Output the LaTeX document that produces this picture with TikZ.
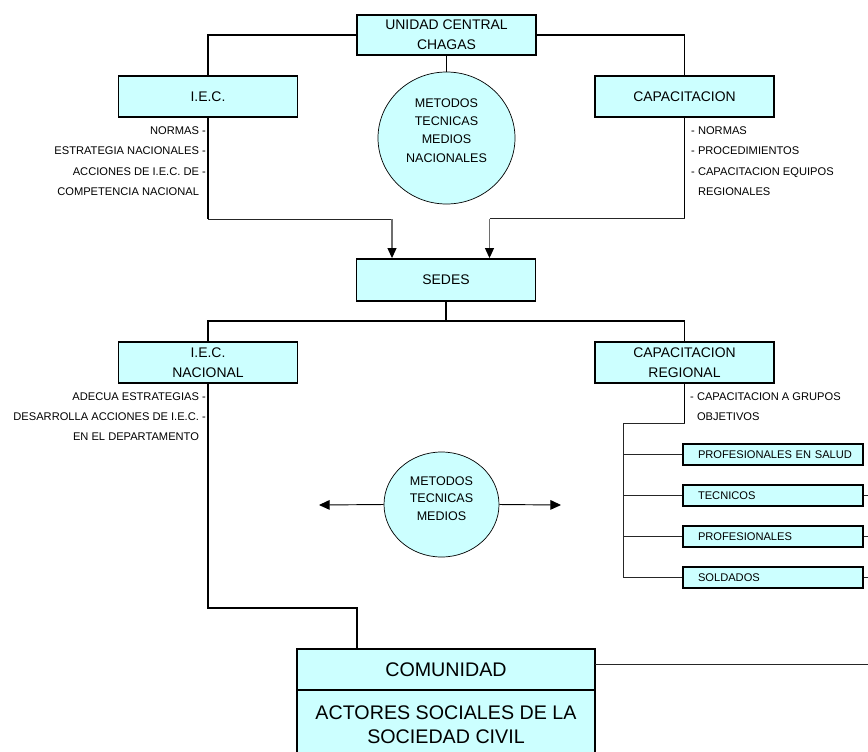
\documentclass[tikz,border=0pt]{standalone}
\usepackage{fontspec}
\setmainfont{Liberation Sans}
\usetikzlibrary{arrows.meta,positioning,shapes.geometric}
\definecolor{ChagasCyan}{HTML}{CCFFFF}
\definecolor{FeedGray}{HTML}{6E6E6E}
\newcommand{\orgfont}{\fontsize{11.9}{17}\selectfont}
\newcommand{\notefont}{\fontsize{9.5}{17.2}\selectfont}
\newcommand{\discfont}{\fontsize{10.7}{15.6}\selectfont}
\newcommand{\bigfont}{\fontsize{16.8}{20.4}\selectfont}
\tikzset{
  orgbox/.style={draw=black,line width=1.6pt,fill=ChagasCyan,align=center,minimum width=5.37cm,minimum height=1.23cm,inner sep=1pt,font=\orgfont},
  groupbox/.style={draw=black,line width=1.6pt,fill=ChagasCyan,align=left,text width=5.1cm,inner xsep=0.15cm,inner ysep=0pt,minimum height=0.63cm,font=\notefont,execute at begin node=\hspace*{0.3cm}},
  disc/.style={ellipse,draw=black,line width=0.6pt,fill=ChagasCyan,inner sep=0pt},
  disctext/.style={align=center,inner sep=0pt,font=\discfont},
  notes/.style={inner sep=0pt,font=\notefont},
  trunk/.style={line width=1.6pt,draw=black},
  twig/.style={line width=0.8pt,draw=black!85},
  feed/.style={-{Triangle[length=3mm,width=2.7mm,color=black]},line width=0.9pt,draw=FeedGray},
  sidearrow/.style={-{Triangle[length=3.2mm,width=2.9mm]},line width=0.8pt,draw=black}
}
\begin{document}
\begin{tikzpicture}[x=0.03cm,y=-0.03cm]
\useasboundingbox (0,0) rectangle (868,751);

% nivel central
\node[orgbox,minimum height=1.2cm] (unidad) at (446.5,35) {UNIDAD CENTRAL\\CHAGAS};
\node[orgbox] (iec) at (208,96.5) {I.E.C.};
\node[orgbox] (cap) at (684.5,96.5) {CAPACITACION};
\node[disc,minimum width=4.11cm,minimum height=3.96cm] (discA) at (446.5,138) {};
\node[disctext] (discAtext) at (446.5,130.5) {METODOS\\TECNICAS\\MEDIOS\\NACIONALES};
\node[notes,anchor=north east,align=right] (iecnotes) at (206,126.7) {NORMAS -\\ESTRATEGIA NACIONALES -\\ACCIONES DE I.E.C. DE -\\COMPETENCIA NACIONAL\phantom{ -}};
\node[notes,anchor=north west,align=left] (capnotes) at (691,126.7) {- NORMAS\\- PROCEDIMIENTOS\\- CAPACITACION EQUIPOS\\\phantom{- }REGIONALES};

% sedes
\node[orgbox,minimum height=1.26cm] (sedes) at (446,280) {SEDES};
\node[orgbox] (iecn) at (208,362.5) {I.E.C.\\NACIONAL};
\node[orgbox] (capr) at (684.5,362.5) {CAPACITACION\\REGIONAL};
\node[notes,anchor=north east,align=right] (iecnnotes) at (206,392.3) {ADECUA ESTRATEGIAS -\\DESARROLLA ACCIONES DE I.E.C. -\\EN EL DEPARTAMENTO\phantom{ -}};
\node[notes,anchor=north west,align=left] (caprnotes) at (690,392.5) {- CAPACITACION A GRUPOS\\\phantom{- }OBJETIVOS};
\node[disc,minimum width=3.45cm,minimum height=3.15cm] (discB) at (441.5,504.5) {};
\node[disctext,font=\fontsize{10.7}{14.9}\selectfont] (discBtext) at (441.5,498.5) {METODOS\\TECNICAS\\MEDIOS};

% grupos objetivos
\node[groupbox] (salud) at (773,454.5) {PROFESIONALES EN SALUD};
\node[groupbox] (tecnicos) at (773,495.5) {TECNICOS};
\node[groupbox] (profes) at (773,536.5) {PROFESIONALES};
\node[groupbox] (soldados) at (773,577.5) {SOLDADOS};

% comunidad
\node[orgbox,outer sep=0pt,minimum width=8.94cm,font=\bigfont] (comu) at (446,669.5) {COMUNIDAD};
\node[orgbox,outer sep=0pt,minimum width=8.94cm,minimum height=2.1cm,font=\bigfont,below=0pt of comu] (actores) {ACTORES SOCIALES DE LA\\SOCIEDAD CIVIL};

% conexiones
\coordinate (feedL) at (392,219);
\coordinate (feedR) at (489.5,218.5);
\coordinate (split) at (446,321);
\coordinate (grpjoin) at (623.5,423);
\coordinate (rim) at (868,0);
\coordinate (leftTip) at (319,505);
\coordinate (rightTip) at (561,505);
\coordinate (bendC) at (357,608);
\coordinate (rimC) at (868,664);

\draw[trunk] (unidad.west) -| (iec.north);
\draw[trunk] (unidad.east) -| (cap.north);
\draw[trunk] (unidad.south) -- (discA.north);
\draw[trunk] (iec.south) -- (iec.south |- feedL);
\draw[twig] (iec.south |- feedL) -- (feedL);
\draw[feed] (feedL) -- (feedL |- sedes.north);
\draw[trunk] (cap.south) -- (cap.south |- feedR);
\draw[twig] (cap.south |- feedR) -- (feedR);
\draw[feed] (feedR) -- (feedR |- sedes.north);

\draw[trunk] (sedes.south) -- (split);
\draw[trunk] (iecn.north) |- (split) -| (capr.north);

\draw[trunk] (capr.south) -- (capr.south |- grpjoin);
\draw[twig] (capr.south |- grpjoin) -- (grpjoin) -- (grpjoin |- soldados.west);
\foreach \grp in {salud,tecnicos,profes,soldados}
  \draw[twig] (grpjoin |- \grp.west) -- (\grp.west);
\foreach \grp in {tecnicos,profes,soldados}
  \draw[twig] (\grp.east) -- (\grp.east -| rim);

\draw[sidearrow] (discB.west) -- (leftTip);
\draw[sidearrow] (discB.east) -- (rightTip);

\draw[trunk] (iecn.south) |- (bendC) -- (bendC |- comu.north);
\draw[twig] (comu.east |- rimC) -- (rimC);
\end{tikzpicture}
\end{document}
